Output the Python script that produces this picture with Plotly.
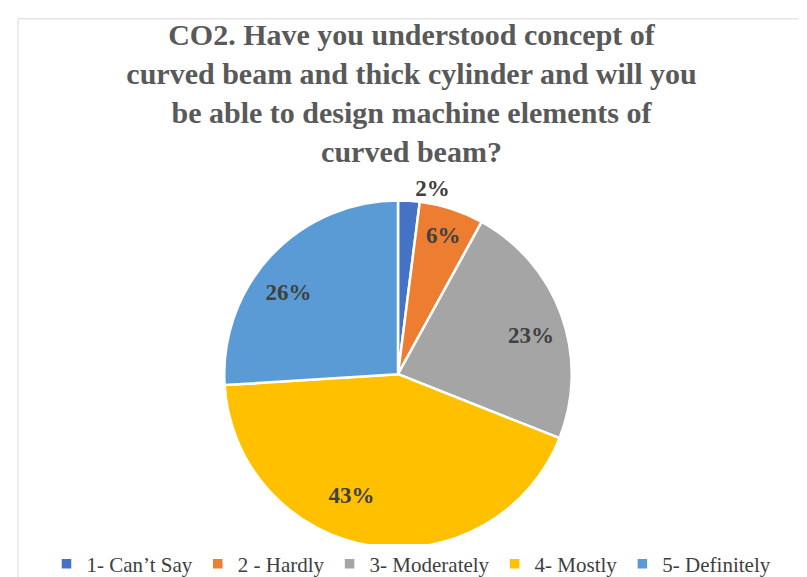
import plotly.graph_objects as go

labels = ["1- Can’t Say", "2 - Hardly", "3- Moderately", "4- Mostly", "5- Definitely"]
values = [2, 6, 23, 43, 26]
colors = ["#4472C4", "#ED7D31", "#A5A5A5", "#FFC000", "#5B9BD5"]

W, H = 807, 577
cx, cy, r = 390, 372, 176.5      # requested pie centre / radius (px)
r_lab = 112                       # radius of the helper ring that carries the outer labels
SERIF = "Liberation Serif, Times New Roman, DejaVu Serif, serif"
LBL = "<b>%{percent:.0%}</b>"
LBLFONT = dict(family=SERIF, size=23, color="#404040")


def dom(rad):
    return dict(x=[(cx - rad) / W, (cx + rad) / W], y=[(H - cy - rad) / H, (H - cy + rad) / H])


# main pie: draws the slices, the outside "2%" and the inside "6%"
pie_main = go.Pie(
    labels=labels, values=values, sort=False, direction="clockwise", rotation=0,
    marker=dict(colors=colors, line=dict(color="white", width=2.5)),
    texttemplate=[LBL, LBL, "", "", ""],
    textposition=["outside", "inside", "none", "none", "none"],
    insidetextorientation="horizontal",
    textfont=LBLFONT, insidetextfont=LBLFONT, outsidetextfont=LBLFONT,
    domain=dom(r), hoverinfo="label+percent",
)

# transparent helper pie (same values) placing the big-slice labels further out, like Excel
pie_labels = go.Pie(
    labels=labels, values=values, sort=False, direction="clockwise", rotation=0,
    marker=dict(colors=["rgba(0,0,0,0)"] * len(values), line=dict(width=0)),
    texttemplate=["", "", LBL, LBL, LBL],
    textposition=["none", "none", "outside", "outside", "outside"],
    textfont=LBLFONT, outsidetextfont=LBLFONT,
    domain=dom(r_lab), hoverinfo="skip", showlegend=False,
)

fig = go.Figure([pie_main, pie_labels])

fig.update_layout(
    width=W, height=H,
    margin=dict(l=0, r=0, t=0, b=0),
    paper_bgcolor="white",
    title=dict(
        text="CO2. Have you understood concept of<br>curved beam and thick cylinder and will you<br>be able to design machine elements of<br>curved beam?",
        x=0.5, xanchor="center", y=1 - 37 / H, yanchor="top",
        font=dict(family=SERIF, size=30, color="#595959", weight="bold"),
    ),
    legend=dict(
        orientation="h", x=0.5, xanchor="center", y=(H - 565) / H, yanchor="middle",
        font=dict(family=SERIF, size=21, color="#404040"),
        traceorder="normal",
    ),
    shapes=[dict(type="rect", xref="paper", yref="paper", x0=10 / W, x1=797 / W, y0=-0.05, y1=1 - 11 / H,
                 line=dict(color="#D9D9D9", width=1), fillcolor="rgba(0,0,0,0)", layer="below")],
)

fig.write_html("out.html")
